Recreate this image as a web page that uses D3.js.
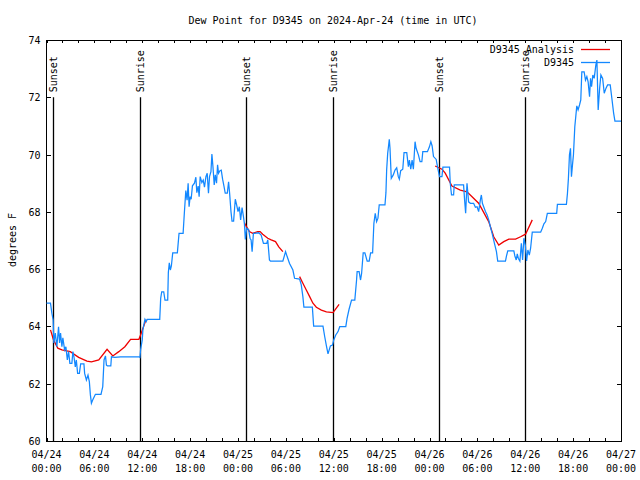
<!DOCTYPE html>
<html><head><meta charset="utf-8">
<script src="https://cdn.jsdelivr.net/npm/d3@7/dist/d3.min.js"></script>
<style>
body{margin:0;background:#fff}
svg{display:block;background:#fff}
text{font-family:"DejaVu Sans Mono","Liberation Mono",monospace;font-size:10px;fill:#000}
</style>
</head><body>
<svg id="chart" width="640" height="480"></svg>
<script>
const title = "Dew Point for D9345 on 2024-Apr-24 (time in UTC)";
const yTitle = "degrees F";
const startTime = Date.UTC(2024, 3, 24, 0, 0, 0);
const spanHours = 72;
const yDomain = [60, 74];
const yTicks = [60, 62, 64, 66, 68, 70, 72, 74];
const xLabelHours = [0, 6, 12, 18, 24, 30, 36, 42, 48, 54, 60, 66, 72];
const xMinorHours = d3.range(0, 73, 2);
const seriesNames = ["D9345 Analysis", "D9345"];

// observed dew point: [hours since 04/24 00:00 UTC, deg F]
const obsData = [
[0,64.81],[0.5,64.81],[0.67,64.46],[0.84,64.22],[0.92,63.42],[1.10,63.77],[1.30,63.29],[1.51,63.99],[1.64,63.42],[1.76,63.77],
[1.93,63.29],[2.05,63.60],[2.27,63.18],[2.43,63.29],[2.61,62.83],[2.77,63.12],[2.93,62.71],[3.18,62.71],[3.31,63.12],[3.44,62.94],
[3.61,62.59],[3.74,62.83],[3.90,62.36],[4.12,62.36],[4.28,62.69],[4.69,62.69],[4.78,62.36],[5.00,62.13],[5.20,62.30],[5.37,62.07],
[5.50,61.61],[5.63,61.32],[5.79,61.43],[6.13,61.63],[6.83,61.63],[7.05,61.90],[7.21,62.83],[7.39,62.97],[7.51,62.65],[7.64,62.62],
[8.06,62.62],[8.14,62.94],[8.56,62.92],[9.28,62.94],[11.58,62.94],[11.71,62.92],[11.79,63.18],[12.00,63.53],[12.08,63.88],[12.34,64.25],
[12.50,64.17],[12.62,64.25],[14.19,64.25],[14.31,64.98],[14.44,65.21],[14.69,65.21],[14.85,64.92],[15.19,64.92],[15.27,65.88],[15.39,66.22],
[15.52,65.97],[15.65,66.11],[15.82,66.57],[16.40,66.57],[16.61,67.25],[17.12,67.25],[17.28,67.98],[17.46,68.74],[17.62,68.41],[17.75,69.00],
[17.87,68.18],[18.00,68.53],[18.13,68.44],[18.29,68.91],[18.54,69.00],[18.72,69.21],[18.84,68.67],[19.01,68.90],[19.13,68.53],[19.26,69.23],
[19.47,69.02],[19.64,69.11],[19.80,68.86],[19.98,69.23],[20.14,69.35],[20.30,68.65],[20.43,69.23],[20.61,69.40],[20.73,70.02],[20.86,69.58],
[21.02,68.94],[21.15,69.29],[21.31,69.00],[21.44,69.64],[21.56,69.35],[21.74,69.44],[21.90,69.46],[22.07,69.14],[22.24,68.90],[22.40,68.65],
[22.66,68.65],[22.82,69.05],[22.95,68.65],[23.12,68.01],[23.25,67.68],[23.45,67.68],[23.66,68.44],[23.83,68.24],[24.00,68.01],[24.17,68.18],
[24.33,67.72],[24.51,68.15],[24.67,67.86],[24.80,67.60],[24.92,67.04],[25.09,67.43],[25.34,67.37],[25.51,67.08],[25.64,67.02],[25.77,66.61],
[25.93,67.25],[26.06,67.25],[26.60,67.27],[26.90,67.19],[27.19,66.90],[27.60,66.90],[27.73,67.02],[27.94,66.32],[28.07,66.28],[29.62,66.28],
[29.96,66.61],[30.17,66.43],[30.46,66.20],[30.88,65.97],[31.09,65.68],[31.72,65.65],[31.93,65.45],[32.13,65.04],[32.26,64.67],[33.32,64.67],
[33.48,64.01],[34.65,64.01],[34.87,63.64],[35.08,63.32],[35.28,63.04],[35.58,63.32],[35.84,63.35],[36.00,63.53],[36.25,63.70],[36.54,63.82],
[36.75,63.99],[37.51,63.99],[37.67,64.28],[37.92,64.60],[38.23,64.92],[38.64,64.92],[38.86,65.62],[38.93,65.91],[39.18,65.91],[39.36,65.62],
[39.49,65.85],[39.69,66.57],[39.90,66.57],[40.19,66.28],[40.44,66.28],[40.62,66.57],[40.87,66.57],[41.03,67.60],[41.20,67.95],[41.37,67.66],
[41.54,67.78],[41.70,68.24],[42.42,68.24],[42.54,68.67],[42.63,69.46],[42.76,70.04],[42.88,70.33],[42.96,70.53],[43.05,70.22],[43.21,69.17],
[43.46,69.29],[43.68,69.46],[43.89,69.54],[44.09,69.23],[44.22,69.14],[44.39,69.44],[44.65,69.49],[44.81,70.07],[45.15,70.07],[45.35,69.58],
[45.48,69.81],[45.65,69.49],[45.82,69.81],[45.98,69.49],[46.19,70.45],[46.32,70.22],[46.61,69.99],[46.82,69.75],[47.04,69.75],[47.16,70.10],
[47.74,70.10],[47.99,70.27],[48.17,70.45],[48.33,70.30],[48.50,69.93],[48.84,69.83],[49.00,69.58],[49.25,69.23],[49.56,69.23],[49.68,69.56],
[50.51,69.56],[50.60,69.00],[50.76,68.59],[51.02,68.59],[51.10,68.94],[52.27,68.94],[52.40,68.41],[52.53,67.95],[52.70,69.00],[52.90,68.35],
[53.12,68.30],[53.53,68.30],[53.75,68.16],[53.96,68.18],[54.16,68.01],[54.37,68.41],[54.50,68.59],[54.63,68.30],[54.79,68.18],[55.01,68.01],
[55.22,67.89],[55.42,67.72],[55.63,67.48],[55.85,67.25],[56.14,66.90],[56.39,66.61],[56.55,66.28],[57.52,66.28],[57.65,66.46],[57.81,66.64],
[58.57,66.64],[58.70,66.46],[58.87,66.32],[59.00,66.53],[59.13,66.38],[59.33,66.28],[59.51,66.90],[59.67,66.32],[59.83,67.08],[60.01,66.84],
[60.17,66.29],[60.33,66.67],[60.51,66.49],[60.67,66.73],[60.88,67.29],[61.93,67.29],[62.14,67.43],[62.34,67.58],[62.56,67.66],[62.77,67.95],
[63.94,67.95],[64.03,68.26],[65.16,68.26],[65.29,68.65],[65.41,69.17],[65.54,69.99],[65.67,70.22],[65.79,69.23],[65.92,69.64],[66.04,69.99],
[66.21,70.97],[66.46,71.70],[66.62,71.56],[66.80,71.73],[66.96,71.91],[67.09,72.89],[67.38,72.89],[67.55,72.60],[67.72,72.72],[67.88,72.54],
[68.06,72.02],[68.18,72.66],[68.31,72.37],[68.47,72.78],[68.64,72.66],[68.85,73.13],[68.98,73.30],[69.14,71.56],[69.32,72.31],[69.48,72.78],
[69.70,72.66],[69.90,72.14],[70.11,72.31],[70.32,72.43],[70.65,72.43],[70.83,72.02],[71.08,71.44],[71.24,71.17],[72.00,71.17]
];

// analysis dew point (null = gap)
const anaData = [
[0.50,63.88],[0.88,63.53],[1.42,63.24],[1.93,63.18],[2.98,63.12],[4.03,62.92],[5.07,62.79],[5.63,62.76],[6.55,62.83],[7.59,63.20],
[8.31,62.97],[9.06,63.12],[9.82,63.29],[10.54,63.55],[11.58,63.55],[11.79,63.70],[12.42,64.20],[12.59,64.22],
null,
[24.80,67.62],[25.01,67.51],[25.43,67.31],[25.84,67.25],[26.47,67.31],[26.77,67.31],[27.10,67.22],[27.73,67.08],[28.16,67.02],[28.70,66.96],
[29.11,66.78],[29.62,66.61],
null,
[31.72,65.74],[32.13,65.51],[32.56,65.27],[32.98,65.04],[33.39,64.81],[33.82,64.67],[34.45,64.57],[35.08,64.51],[35.91,64.48],[36.67,64.77],
null,
[48.71,69.60],[49.56,69.49],[49.97,69.35],[50.81,68.90],[51.86,68.76],[52.70,68.70],[54.16,68.30],[55.42,67.66],[56.05,67.13],[56.68,66.84],
[57.31,66.96],[57.94,67.05],[58.79,67.05],[59.41,67.13],[60.04,67.22],[60.88,67.72]
];

const eventHours = [0.80, 11.75, 24.95, 35.87, 49.13, 60.00];
const eventNames = ["Sunset", "Sunrise", "Sunset", "Sunrise", "Sunset", "Sunrise"];
const eventTop = 72;

const colors = {analysis: "#ee0000", obs: "#1388ff"};

const svg = d3.select("#chart");
const L = 46.5, R = 621, T = 40, B = 441;
const hr = h => new Date(startTime + h * 3600e3);
const x = d3.scaleUtc().domain([hr(0), hr(spanHours)]).range([L, R]);
const y = d3.scaleLinear().domain(yDomain).range([B, T]);

svg.append("rect").attr("width", 640).attr("height", 480).attr("fill", "#fff");

// title
svg.append("text").attr("x", 333).attr("y", 24).attr("text-anchor", "middle").text(title);
svg.append("text").attr("transform", "translate(12,240) rotate(-90)")
  .attr("text-anchor", "middle").attr("dominant-baseline", "central").text(yTitle);

// axes
const fmtD = d3.utcFormat("%m/%d"), fmtT = d3.utcFormat("%H:%M");
const xb = svg.append("g").attr("transform", `translate(0,${B})`)
  .call(d3.axisBottom(x).tickValues(xMinorHours.map(hr)).tickSizeInner(-3).tickSizeOuter(0).tickFormat(""));
const xt = svg.append("g").attr("transform", `translate(0,${T})`)
  .call(d3.axisTop(x).tickValues(xMinorHours.map(hr)).tickSizeInner(-3).tickSizeOuter(0).tickFormat(""));
const yl = svg.append("g").attr("transform", `translate(${L},0)`)
  .call(d3.axisLeft(y).tickValues(yTicks).tickSizeInner(-4).tickSizeOuter(0).tickFormat(d3.format("d")).tickPadding(10));
const yr = svg.append("g").attr("transform", `translate(${R},0)`)
  .call(d3.axisRight(y).tickValues(yTicks).tickSizeInner(-4).tickSizeOuter(0).tickFormat(""));
[xb, xt, yl, yr].forEach(g => {
  g.select(".domain").remove();
  g.selectAll("line").attr("stroke", "#000").attr("shape-rendering", "crispEdges");
  g.attr("font-family", null).attr("font-size", null);
});
yl.selectAll("text").attr("dy", "0.35em").attr("x", -6);

// x labels (two lines)
const xl = svg.append("g");
xLabelHours.forEach(h => {
  const px = x(hr(h));
  xl.append("text").attr("x", px).attr("y", 458).attr("text-anchor", "middle").text(fmtD(hr(h)));
  xl.append("text").attr("x", px).attr("y", 472).attr("text-anchor", "middle").text(fmtT(hr(h)));
});

// frame
svg.append("rect").attr("x", L).attr("y", T).attr("width", R - L).attr("height", B - T)
  .attr("fill", "none").attr("stroke", "#000").attr("shape-rendering", "crispEdges");

// sun events
const ev = svg.append("g");
eventHours.forEach((h, i) => {
  const px = Math.round(x(hr(h))) + 0.5;
  ev.append("line").attr("x1", px).attr("x2", px).attr("y1", y(eventTop)).attr("y2", B)
    .attr("stroke", "#000").attr("stroke-width", 1.3);
  ev.append("text").attr("transform", `translate(${px},${y(eventTop) - 5}) rotate(-90)`)
    .attr("dominant-baseline", "central").text(eventNames[i]);
});

// lines
const line = d3.line().defined(d => d !== null).x(d => x(hr(d[0]))).y(d => y(d[1]));
svg.append("path").datum(anaData).attr("d", line).attr("fill", "none")
  .attr("stroke", colors.analysis).attr("stroke-width", 1.3);
svg.append("path").datum(obsData).attr("d", line).attr("fill", "none")
  .attr("stroke", colors.obs).attr("stroke-width", 1.25);

// legend
const lg = svg.append("g");
[[seriesNames[0], colors.analysis, 49.5], [seriesNames[1], colors.obs, 62.5]].forEach(([n, c, yy]) => {
  lg.append("text").attr("x", 574).attr("y", yy).attr("text-anchor", "end").attr("dominant-baseline", "central").text(n);
  lg.append("line").attr("x1", 581).attr("x2", 610).attr("y1", yy).attr("y2", yy).attr("stroke", c).attr("stroke-width", 1.3);
});
</script>
</body></html>
